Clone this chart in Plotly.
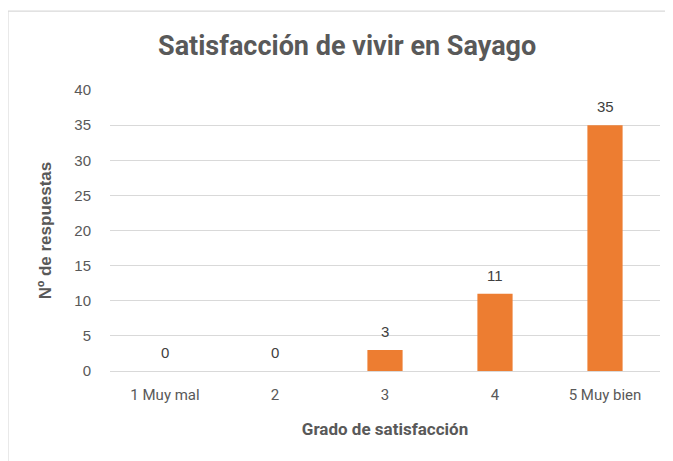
import plotly.graph_objects as go

categories = ["1 Muy mal", "2", "3", "4", "5 Muy bien"]
values = [0, 0, 3, 11, 35]
y_ticks = [0, 5, 10, 15, 20, 25, 30, 35, 40]

fig = go.Figure()
fig.add_trace(go.Bar(x=categories, y=values, marker=dict(color="#ED7D31", line=dict(width=0)),
                     width=0.32, hoverinfo="skip"))

for i, v in enumerate(values):
    fig.add_annotation(x=i, y=v, text=str(v), showarrow=False, yanchor="bottom", yshift=8,
                       font=dict(family="Liberation Sans, Arial", size=15, color="#404040"))

fig.add_shape(type="rect", xref="paper", yref="paper", x0=-0.1855, x1=1.2, y0=-0.6, y1=1.281,
              line=dict(color="#D9D9D9", width=1.2), layer="below")

fig.update_layout(
    width=665, height=453,
    margin=dict(l=102, r=13, t=82, b=90),
    paper_bgcolor="white", plot_bgcolor="white",
    title=dict(text="<b>Satisfacción de vivir en Sayago</b>", x=0.51, xanchor="center", y=0.917, yanchor="middle",
               font=dict(family="Liberation Sans Narrow, Roboto, Arial", size=27, color="#595959")),
    showlegend=False,
    xaxis=dict(type="category",
               title=dict(text="<b>Grado de satisfacción</b>", standoff=20,
                          font=dict(family="Liberation Sans Narrow, Roboto, Arial", size=17, color="#595959")),
               tickfont=dict(family="Liberation Sans Narrow, Roboto, Arial", size=15, color="#595959"),
               showgrid=False, showline=False, ticks="", ticklen=0, ticklabelstandoff=13),
    yaxis=dict(title=dict(text="<b>Nº de respuestas</b>", standoff=18,
                          font=dict(family="Liberation Sans, Arial", size=17, color="#595959")),
               range=[0, 40], tickvals=y_ticks, showgrid=True, gridcolor="#D9D9D9", gridwidth=1,
               zeroline=True, zerolinecolor="#D9D9D9", zerolinewidth=1, ticks="",
               tickfont=dict(family="Liberation Sans, Arial", size=15, color="#595959"),
               ticklabelstandoff=18),
)

fig.write_html("out.html")
